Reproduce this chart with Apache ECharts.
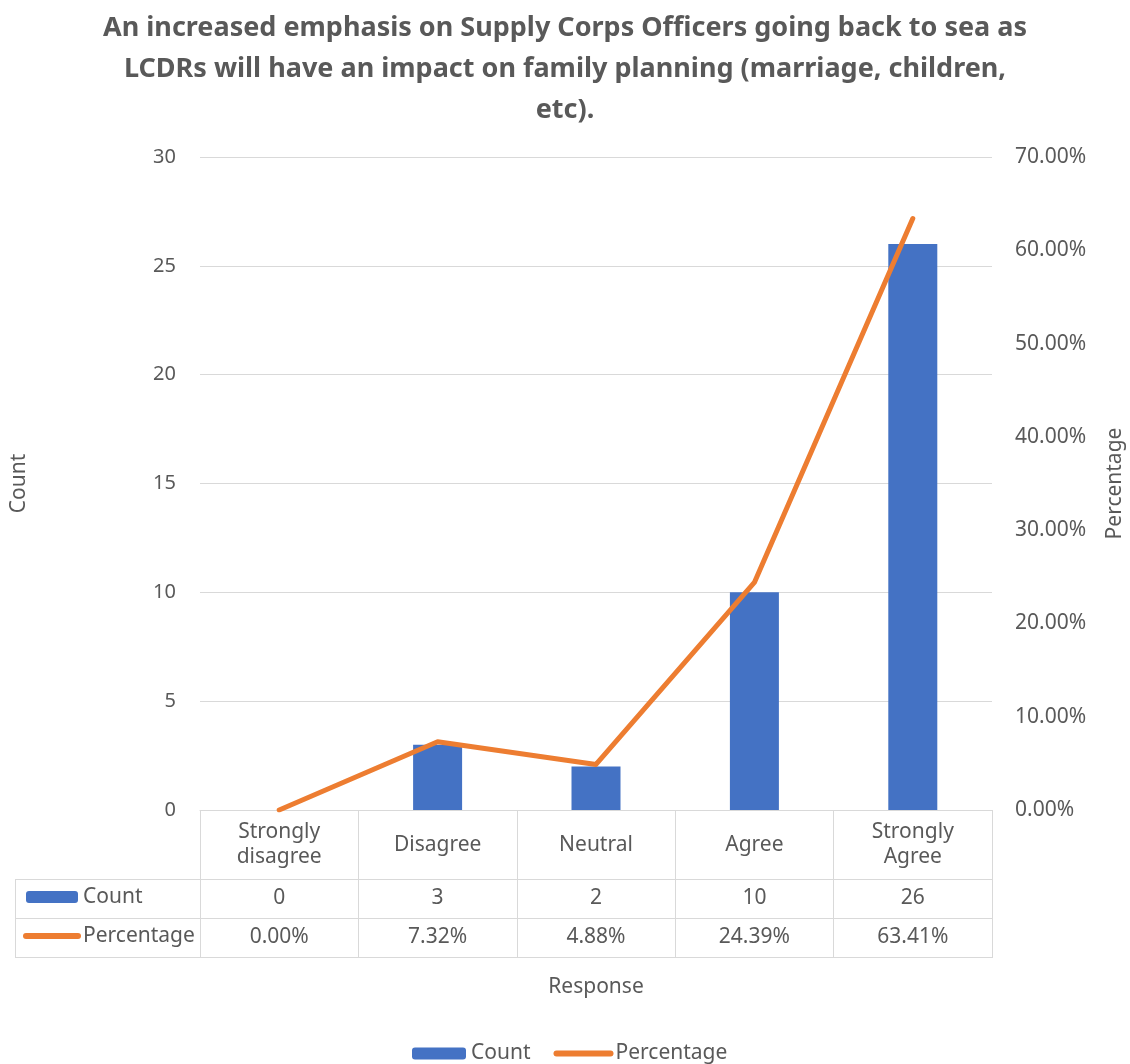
<!DOCTYPE html>
<html>
<head>
<meta charset="utf-8">
<script src="https://cdn.jsdelivr.net/npm/echarts@6/dist/echarts.min.js"></script>
<style>html,body{margin:0;padding:0;background:#fff}#c{width:1130px;height:1064px}</style>
</head>
<body>
<div id="c"></div>
<script>
var titleText = 'An increased emphasis on Supply Corps Officers going back to sea as\nLCDRs will have an impact on family planning (marriage, children,\netc).';
var categories = ['Strongly\ndisagree', 'Disagree', 'Neutral', 'Agree', 'Strongly\nAgree'];
var countValues = [0, 3, 2, 10, 26];
var percentValues = [0.00, 7.32, 4.88, 24.39, 63.41];
var countName = 'Count';
var percentName = 'Percentage';
var xName = 'Response';

var FONT = 'Noto Sans';
var TXT = '#595959';
var GRIDC = '#d9d9d9';
var FS = 21;
var BAR = '#4472C4';
var LINE = '#ED7D31';

var chart = echarts.init(document.getElementById('c'));
var tableLeft = 15, gridLeft = 200, gridRight = 992, axisY = 810;
var rows = [879, 918, 957];

var graphics = [];
rows.forEach(function (y) {
  graphics.push({type: 'line', shape: {x1: tableLeft, y1: y + 0.5, x2: gridLeft, y2: y + 0.5}, style: {stroke: GRIDC, lineWidth: 1}, silent: true});
});
graphics.push({type: 'line', shape: {x1: tableLeft + 0.5, y1: rows[0], x2: tableLeft + 0.5, y2: rows[2] + 1}, style: {stroke: GRIDC, lineWidth: 1}, silent: true});

var baseX = {
  type: 'category', gridIndex: 0, position: 'bottom',
  axisTick: {show: false}, splitLine: {show: false},
  axisLine: {show: true, onZero: false, lineStyle: {color: GRIDC, width: 1}},
  axisLabel: {interval: 0, color: TXT, fontFamily: FONT, fontSize: FS, verticalAlign: 'middle', lineHeight: 25}
};
function mk(extra) { return echarts.util.merge(echarts.util.clone(baseX), extra, true); }

var legendData = [
  {name: countName},
  {name: percentName, itemStyle: {opacity: 0}, lineStyle: {width: 6, cap: 'round', color: LINE}}
];

var option = {
  animation: false,
  textStyle: {fontFamily: FONT},
  title: {
    text: titleText, left: 'center', top: 3,
    textStyle: {fontFamily: FONT, fontSize: 27, fontWeight: 'bold', color: TXT, lineHeight: 41}
  },
  grid: {left: gridLeft, right: 1130 - gridRight, top: 157, bottom: 1064 - axisY, containLabel: false, outerBoundsMode: 'none'},
  legend: [
    {
      data: legendData, left: 412, top: 1043, padding: 0, itemWidth: 54, itemHeight: 12, itemGap: 23,
      selectedMode: false, textStyle: {color: TXT, fontFamily: FONT, fontSize: FS}
    },
    {
      data: legendData, orient: 'vertical', left: 23, top: 886, padding: 0, itemWidth: 52, itemHeight: 12, itemGap: 17,
      selectedMode: false, textStyle: {color: TXT, fontFamily: FONT, fontSize: FS, lineHeight: 22}
    }
  ],
  xAxis: [
    mk({data: categories, offset: 0,
        axisTick: {show: true, interval: 0, length: rows[2] - axisY + 1, lineStyle: {color: GRIDC}},
        axisLabel: {margin: 35}}),
    mk({data: countValues.map(String), offset: rows[0] - axisY, axisLabel: {margin: 19}}),
    mk({data: percentValues.map(function (v) { return v.toFixed(2) + '%'; }), offset: rows[1] - axisY, axisLabel: {margin: 19}}),
    mk({data: categories, offset: rows[2] - axisY, axisLabel: {show: false},
        name: xName, nameLocation: 'middle', nameGap: 20,
        nameTextStyle: {color: TXT, fontFamily: FONT, fontSize: FS}})
  ],
  yAxis: [
    {
      type: 'value', min: 0, max: 30, interval: 5, position: 'left',
      name: countName, nameLocation: 'middle', nameGap: 170, nameRotate: 90,
      nameTextStyle: {color: TXT, fontFamily: FONT, fontSize: FS},
      axisLine: {show: false}, axisTick: {show: false},
      axisLabel: {color: TXT, fontFamily: FONT, fontSize: 20, margin: 24},
      splitLine: {lineStyle: {color: GRIDC, width: 1}}
    },
    {
      type: 'value', min: 0, max: 70, interval: 10, position: 'right',
      name: percentName, nameLocation: 'middle', nameGap: 113, nameRotate: 90,
      nameTextStyle: {color: TXT, fontFamily: FONT, fontSize: FS},
      axisLine: {show: false}, axisTick: {show: false},
      axisLabel: {color: TXT, fontFamily: FONT, fontSize: FS, margin: 23,
        formatter: function (v) { return v.toFixed(2) + '%'; }},
      splitLine: {show: false}
    }
  ],
  series: [
    {
      name: countName, type: 'bar', xAxisIndex: 0, yAxisIndex: 0, data: countValues,
      barWidth: 49, itemStyle: {color: BAR}
    },
    {
      name: percentName, type: 'line', xAxisIndex: 0, yAxisIndex: 1, data: percentValues,
      symbol: 'none', showSymbol: false, z: 5,
      lineStyle: {color: LINE, width: 5, cap: 'round', join: 'round'},
      itemStyle: {color: LINE}
    }
  ],
  graphic: graphics
};
chart.setOption(option);
</script>
</body>
</html>
